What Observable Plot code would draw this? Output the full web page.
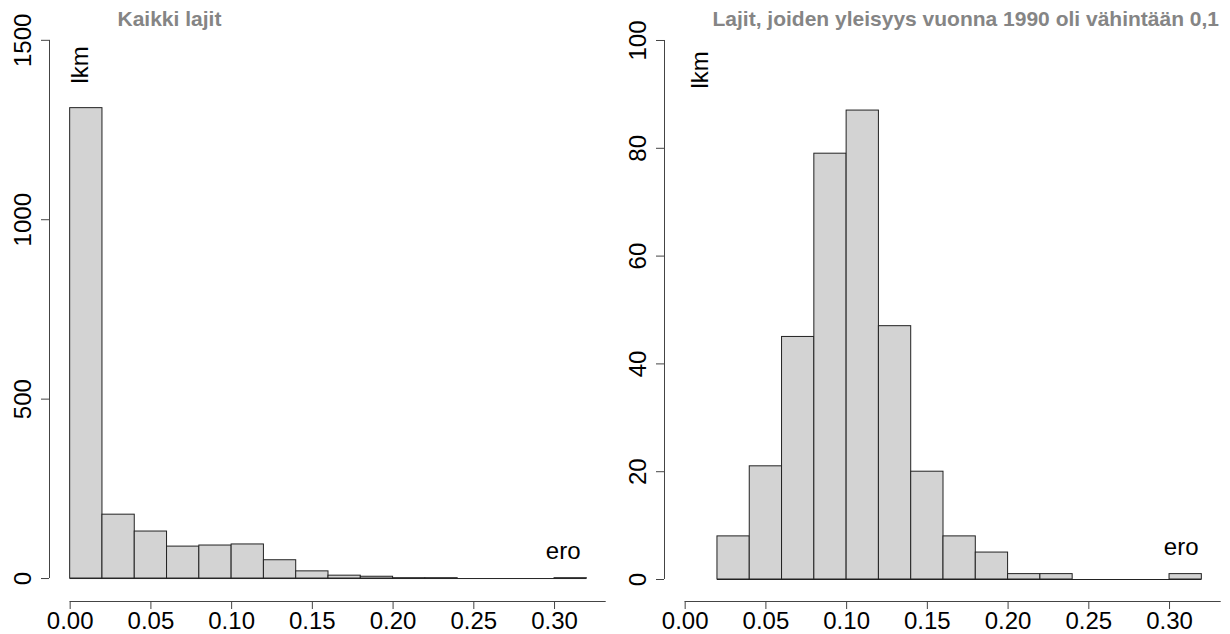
<!DOCTYPE html>
<html><head><meta charset="utf-8">
<script src="https://cdn.jsdelivr.net/npm/d3@7"></script>
<script src="https://cdn.jsdelivr.net/npm/@observablehq/plot@0.6"></script>
<style>
body{margin:0;background:#fff;}
#wrap{display:flex;width:1230px;height:634px;overflow:hidden;}
#wrap svg{font-family:"Liberation Sans",Arial,sans-serif;overflow:visible;}
</style></head><body><div id="wrap"></div>
<script>
// ---- data ----
const edgesAll = [0, 0.02, 0.04, 0.06, 0.08, 0.10, 0.12, 0.14, 0.16, 0.18, 0.20, 0.22, 0.24, 0.26, 0.28, 0.30, 0.32];
const countsAll = [1311, 178, 131, 89, 92, 95, 51, 20, 8, 5, 1, 1, 0, 0, 0, 1];
const edgesSel = [0.02, 0.04, 0.06, 0.08, 0.10, 0.12, 0.14, 0.16, 0.18, 0.20, 0.22, 0.24, 0.26, 0.28, 0.30, 0.32];
const countsSel = [8, 21, 45, 79, 87, 47, 20, 8, 5, 1, 1, 0, 0, 0, 1];
const xTicks = [0, 0.05, 0.10, 0.15, 0.20, 0.25, 0.30];
const yTicksAll = [0, 500, 1000, 1500];
const yTicksSel = [0, 20, 40, 60, 80, 100];
const titleAll = "Kaikki lajit";
const titleSel = "Lajit, joiden yleisyys vuonna 1990 oli vähintään 0,1";
const yLabel = "lkm";
const xLabel = "ero";

// ---- layout / scale settings ----
const xDomain = [-0.0128, 0.3328];
const xAxisEnd = 0.332;
const axisColor = "#444";

function panel({edges, counts, yTicks, yDomain, title, titleDx, lkmDx, lkmDy, eroDx, eroDy}) {
  const bins = counts.map((n, i) => ({x1: edges[i], x2: edges[i + 1], n}));
  return Plot.plot({
    width: 615, height: 634,
    marginTop: 0, marginBottom: 33, marginLeft: 49, marginRight: 8,
    x: {domain: xDomain},
    y: {domain: yDomain},
    style: {fontFamily: '"Liberation Sans", Arial, sans-serif', fontSize: "24px", background: "#fff"},
    marks: [
      Plot.ruleY([0], {x1: edges[0], x2: edges[edges.length - 1], stroke: "#222", strokeWidth: 1}),
      Plot.rectY(bins.filter(d => d.n > 0), {x1: "x1", x2: "x2", y1: 0, y2: "n", fill: "#d3d3d3", stroke: "#222", strokeWidth: 1}),
      // x axis
      Plot.ruleY([yDomain[0]], {x1: 0, x2: xAxisEnd, stroke: axisColor}),
      Plot.axisX(xTicks, {tickSize: 8, tickPadding: 2, fontSize: 24, tickFormat: d3.format(".2f"), label: null, stroke: axisColor, fill: "#000"}),
      // y axis
      Plot.ruleX([xDomain[0]], {y1: yTicks[0], y2: yTicks[yTicks.length - 1], stroke: axisColor}),
      Plot.axisY(yTicks, {tickSize: 8, fill: "none", label: null, stroke: axisColor}),
      Plot.text(yTicks, {y: d => d, text: d => String(d), frameAnchor: "left", dx: -19, rotate: -90, textAnchor: "middle", lineAnchor: "bottom", fontSize: 24, fill: "#000"}),
      // labels
      Plot.text([title], {frameAnchor: "top-left", dx: titleDx, dy: 25, textAnchor: "start", lineAnchor: "bottom", fontSize: 21, fontWeight: "bold", fill: "#858585"}),
      Plot.text([yLabel], {frameAnchor: "top-left", dx: lkmDx, dy: lkmDy, rotate: -90, textAnchor: "start", lineAnchor: "bottom", fontSize: 24, fill: "#000"}),
      Plot.text([xLabel], {frameAnchor: "bottom-right", dx: eroDx, dy: eroDy, textAnchor: "end", lineAnchor: "bottom", fontSize: 24, fill: "#000"})
    ]
  });
}

const wrap = document.getElementById("wrap");
wrap.append(panel({edges: edgesAll, counts: countsAll, yTicks: yTicksAll, yDomain: [-64, 1611],
  title: titleAll, titleDx: 68, lkmDx: 38, lkmDy: 83, eroDx: -27, eroDy: -43}));
wrap.append(panel({edges: edgesSel, counts: countsSel, yTicks: yTicksSel, yDomain: [-4.08, 107.42],
  title: titleSel, titleDx: 48, lkmDx: 43, lkmDy: 88, eroDx: -24, eroDy: -47}));
</script>
</body></html>
